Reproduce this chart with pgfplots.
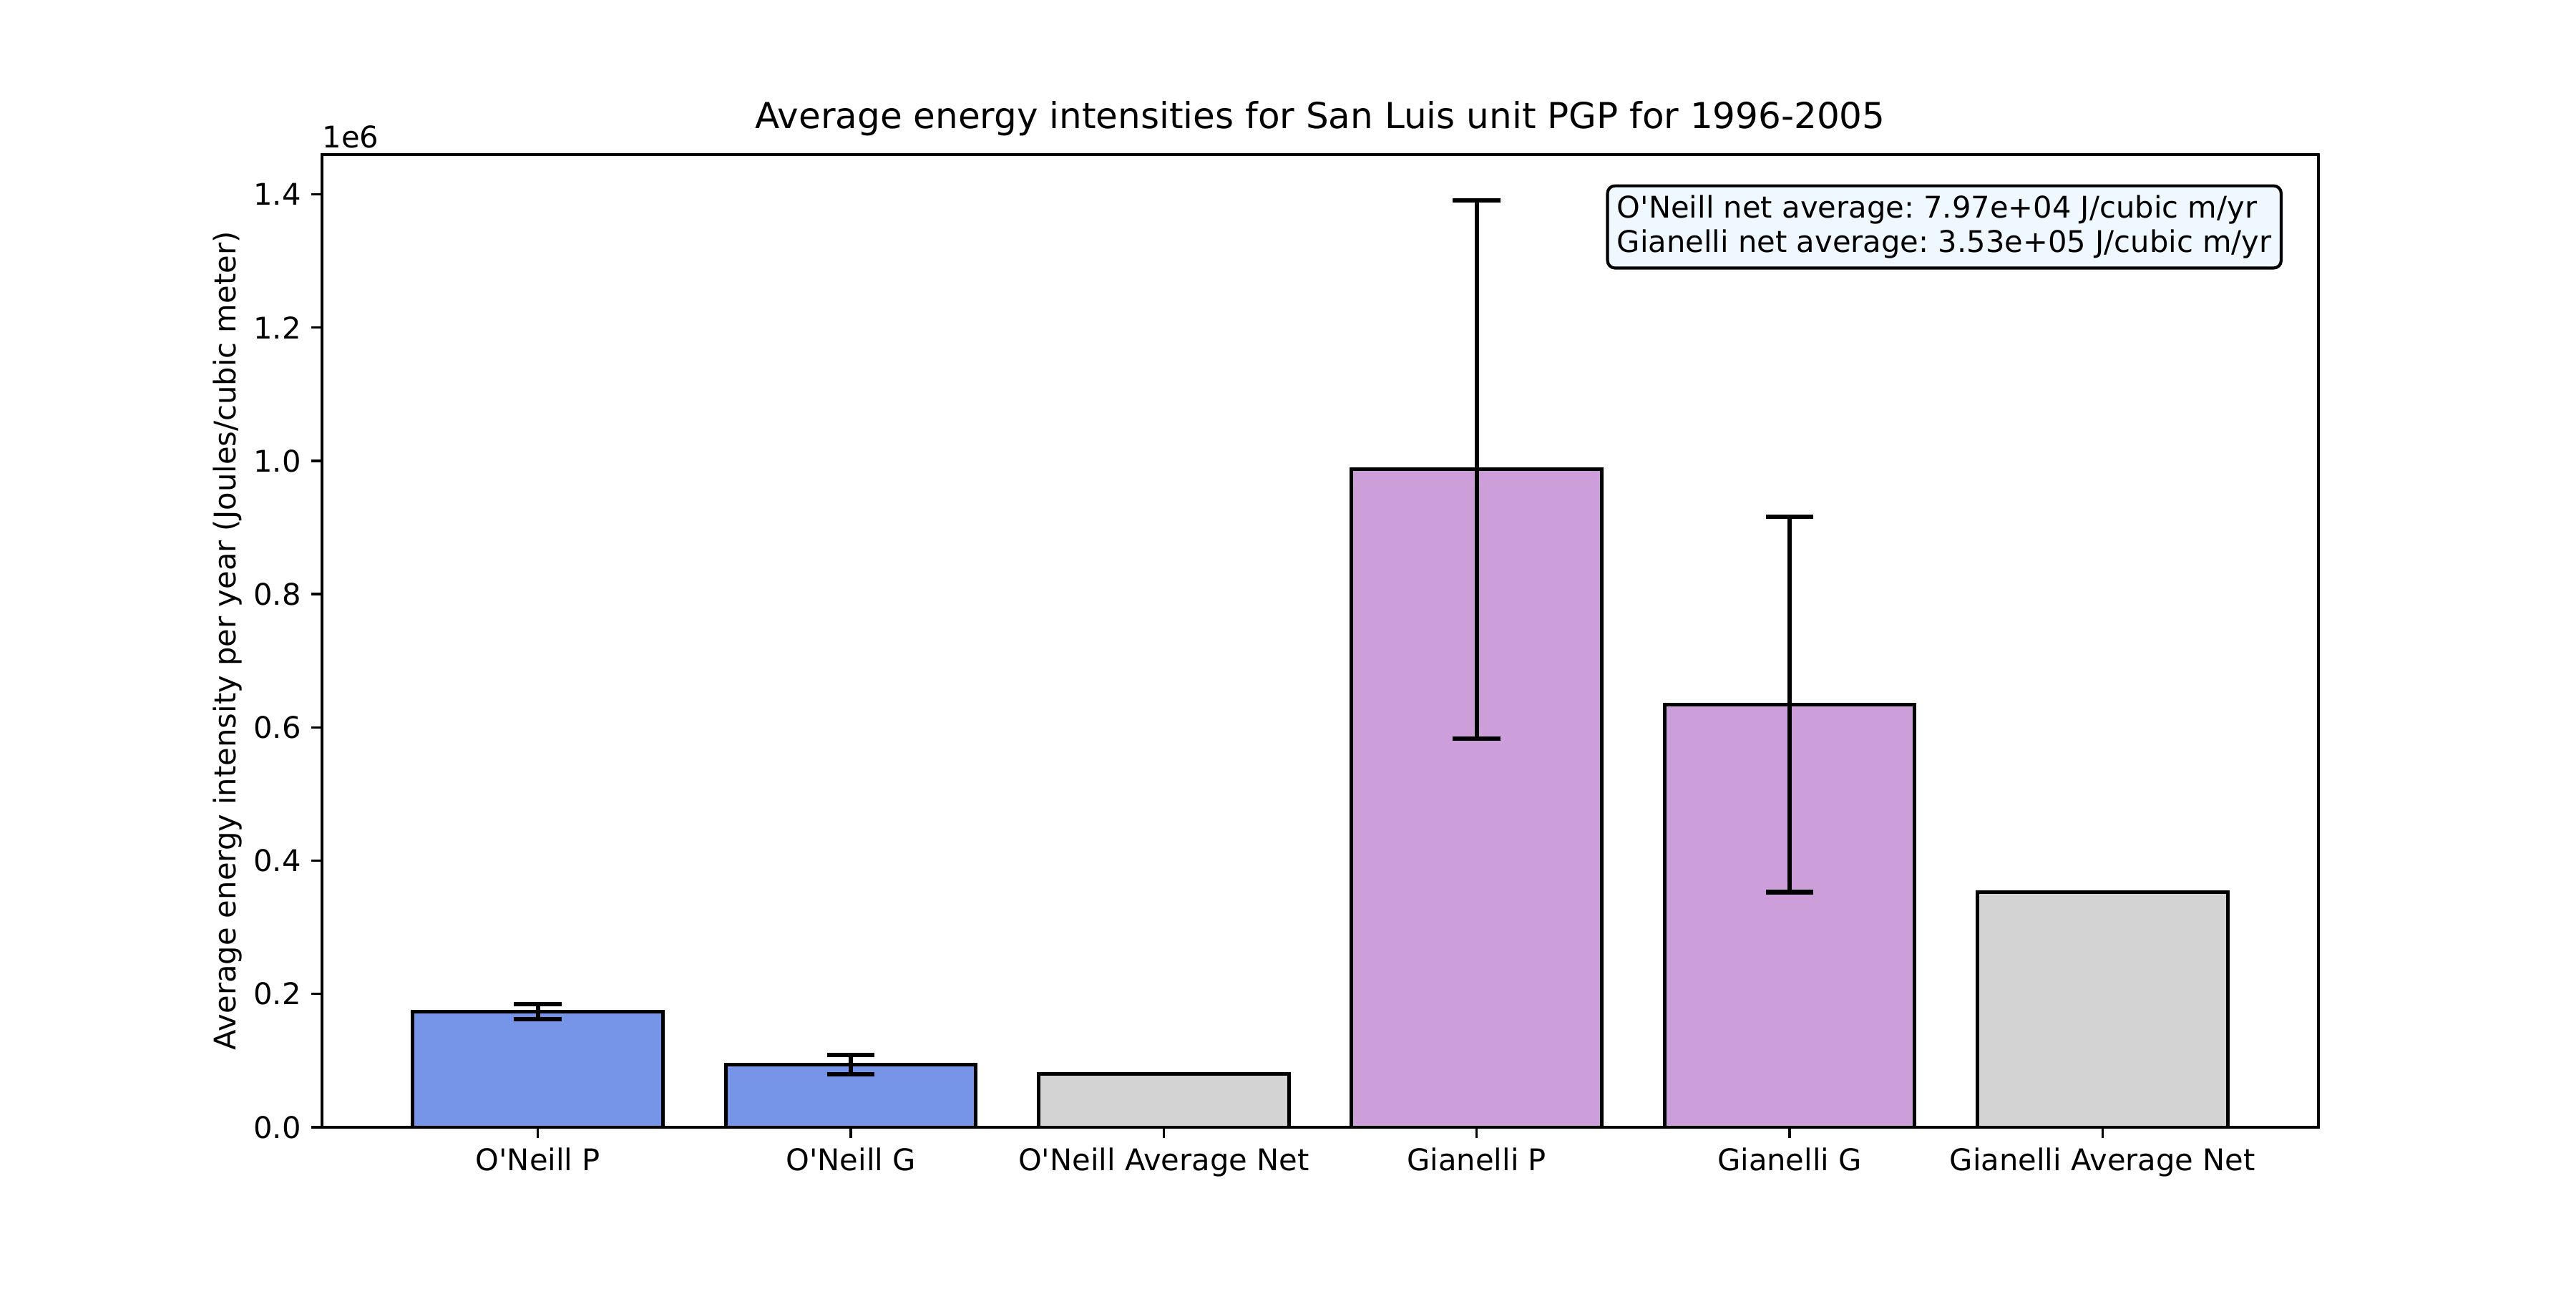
\documentclass[border=0pt]{standalone}
\usepackage{fontspec}
\setmainfont{DejaVu Sans}[Ligatures=TeXOff]
\usepackage{pgfplots}
\pgfplotsset{compat=1.18}

\definecolor{oneill}{HTML}{7795E8}
\definecolor{gianelli}{HTML}{CC9EDA}
\definecolor{netgray}{HTML}{D3D3D3}
\definecolor{boxfill}{HTML}{F0F8FF}

\begin{document}
\frenchspacing
\begin{tikzpicture}
    %% figure is 12in x 6in, axes frame at (0.125,0.125)-(0.9,0.88)
    \begin{axis}[
        scale only axis,
        width=669.6pt, height=326.2pt,
        at={(0,0)}, anchor=south west,
        clip mode=individual,
        xmin=-0.69, xmax=5.69,
        ymin=0, ymax=1.4597e6,
        xtick={0,1,2,3,4,5},
        xticklabels={O'Neill P, O'Neill G, O'Neill Average Net, Gianelli P, Gianelli G, Gianelli Average Net},
        ytick={0,200000,400000,600000,800000,1000000,1200000,1400000},
        yticklabels={0.0,0.2,0.4,0.6,0.8,1.0,1.2,1.4},
        scaled y ticks=false,
        xtick pos=left, ytick pos=left,
        tick align=outside,
        major tick length=3.5pt,
        tick style={black, line width=0.8pt},
        axis line style={line width=0.8pt},
        ticklabel style={font=\fontsize{10}{12}\selectfont},
        ylabel={Average energy intensity per year (Joules/cubic meter)},
        ylabel style={font=\fontsize{10}{12}\selectfont, at={(axis description cs:-0.0473,0.5)}, anchor=center},
        ybar, bar width=0.8,
        every axis plot/.append style={draw=black, line width=1.2pt, bar shift=0pt},
    ]
    %% O'Neill pumping and generating (error = std)
    \addplot[fill=oneill,
        error bars/.cd, y dir=both, y explicit,
        error bar style={line width=1.5pt, black},
        error mark options={rotate=90, mark size=8pt, line width=1.5pt, black}]
        coordinates {(0,173800) +- (0,11300) (1,94200) +- (0,14400)};
    %% Gianelli pumping and generating
    \addplot[fill=gianelli,
        error bars/.cd, y dir=both, y explicit,
        error bar style={line width=1.5pt, black},
        error mark options={rotate=90, mark size=8pt, line width=1.5pt, black}]
        coordinates {(3,987000) +- (0,403700) (4,634500) +- (0,281800)};
    %% net averages
    \addplot[fill=netgray] coordinates {(2,79700) (5,353000)};

    \node[anchor=south, inner sep=0pt, font=\fontsize{12}{14}\selectfont]
        at (rel axis cs:0.5,1) [yshift=6pt] {Average energy intensities for San Luis unit PGP for 1996-2005};
    \node[anchor=south west, inner sep=0pt, font=\fontsize{10}{12}\selectfont]
        at (rel axis cs:0,1) [yshift=2pt] {1e6};
    \node[anchor=north east, draw=black, line width=1pt, fill=boxfill, rounded corners=2.5pt,
          align=left, inner sep=3.2pt, font=\fontsize{10}{11.5}\selectfont]
        at (rel axis cs:1,1) [xshift=-12pt, yshift=-10pt]
        {O'Neill net average: 7.97e+04 J/cubic m/yr\\Gianelli net average: 3.53e+05 J/cubic m/yr};
    \end{axis}
    \pgfresetboundingbox
    \useasboundingbox (-108pt,-54pt) rectangle (756pt,378pt);
\end{tikzpicture}
\end{document}
